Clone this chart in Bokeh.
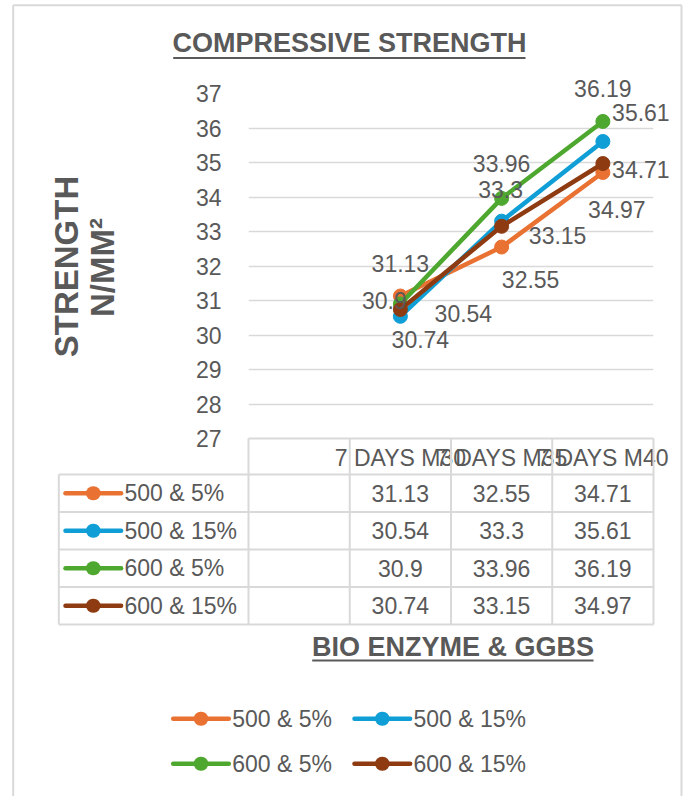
import math

from bokeh.plotting import figure
from bokeh.models import Range1d, FixedTicker
from bokeh.core.properties import value
from bokeh.embed import file_html
from bokeh.resources import INLINE

# ---------------- data ----------------
categories = ["", "7 DAYS M30", "7 DAYS M35", "7 DAYS M40"]
series_names = ["500 & 5%", "500 & 15%", "600 & 5%", "600 & 15%"]
strength_500_5 = [31.13, 32.55, 34.71]
strength_500_15 = [30.54, 33.3, 35.61]
strength_600_5 = [30.9, 33.96, 36.19]
strength_600_15 = [30.74, 33.15, 34.97]
y_ticks = [27, 28, 29, 30, 31, 32, 33, 34, 35, 36, 37]

series_values = [strength_500_5, strength_500_15, strength_600_5, strength_600_15]

# ---------------- styling ----------------
colors = ["#E97132", "#0F9ED5", "#4EA72E", "#8E3B12"]
FONT = "Liberation Sans"
GREY = "#595959"
RULE = "#D9D9D9"

# data-label offsets in px (right, up) for each point of each series
label_offsets = [
    [(0, 33), (29, -32), (38, 3)],
    [(63, 3), (-1, 32), (38, 29)],
    [(-16, 3), (0, 35), (0, 33)],
    [(20, -30), (56, -9), (14, -46)],
]

# ---------------- layout ----------------
W, H = 689, 796
FL, FT, FW, FH = 248, 93, 405, 345          # plot frame
Y0, Y1 = y_ticks[0], y_ticks[-1]
x_lo, x_hi = -0.5, len(categories) - 0.5
cat_x = list(range(1, len(categories)))
XPX = (x_hi - x_lo) / FW                     # data units per px
YPX = (Y1 - Y0) / FH


def xd(px):
    return x_lo + (px - FL) * XPX


def yd(py):
    return Y1 - (py - FT) * YPX


p = figure(width=W, height=H, x_range=Range1d(x_lo, x_hi), y_range=Range1d(Y0, Y1),
           output_backend="svg", toolbar_location=None,
           min_border_left=FL, min_border_right=W - FL - FW,
           min_border_top=FT, min_border_bottom=H - FT - FH)
p.outline_line_color = None
p.background_fill_color = "white"
p.border_fill_color = "white"

# axes
xa = p.xaxis[0]
xa.ticker = FixedTicker(ticks=cat_x)
xa.major_label_overrides = {i: categories[i] for i in cat_x}
xa.major_label_standoff = 0
ya = p.yaxis[0]
ya.ticker = FixedTicker(ticks=y_ticks)
ya.major_label_standoff = 21
for ax in (xa, ya):
    ax.axis_line_color = None
    ax.major_tick_line_color = None
    ax.minor_tick_line_color = None
    ax.major_label_text_font = FONT
    ax.major_label_text_font_size = "23px"
    ax.major_label_text_color = GREY

p.xgrid.visible = False
p.ygrid.ticker = FixedTicker(ticks=y_ticks)
p.ygrid.grid_line_color = RULE
p.ygrid.grid_line_width = 1.5


def put_text(xs, ys, texts, size="23px", bold=False, align="center", angle=0.0):
    p.text(x=xs, y=ys, text=texts, angle=angle, level="overlay",
           text_font=value(FONT), text_font_size=value(size),
           text_font_style=value("bold" if bold else "normal"),
           text_color=GREY, text_align=align, text_baseline="middle")


def put_key(i, x_left_px, y_px, text_gap=3.4):
    # legend key: line with a round dot in the middle, then the series name
    col = colors[i]
    cx = x_left_px + 27.8
    p.segment(x0=[xd(x_left_px)], y0=[yd(y_px)], x1=[xd(x_left_px + 55.6)], y1=[yd(y_px)],
              line_color=col, line_width=4.5, line_cap="round", level="overlay")
    p.segment(x0=[xd(cx - 0.3)], y0=[yd(y_px)], x1=[xd(cx + 0.3)], y1=[yd(y_px)],
              line_color=col, line_width=14, line_cap="round", level="overlay")
    put_text([xd(x_left_px + 55.6 + text_gap)], [yd(y_px)], [series_names[i]], align="left")


# outer chart border, data table rules and title underlines
TOP = FT + FH
HEAD_H, ROW_H = 36, 37.5
TL = 58.3
row_lines = [TOP + HEAD_H + k * ROW_H for k in range(len(series_names) + 1)]
bottom = row_lines[-1]
x0s, y0s, x1s, y1s = [], [], [], []
x0s.append(x_lo); y0s.append(Y0); x1s.append(x_hi); y1s.append(Y0)
for py in row_lines:
    x0s.append(xd(TL)); y0s.append(yd(py)); x1s.append(x_hi); y1s.append(yd(py))
x0s.append(xd(TL)); y0s.append(yd(row_lines[0])); x1s.append(xd(TL)); y1s.append(yd(bottom))
for k in range(len(categories) + 1):
    xe = x_lo + k
    x0s.append(xe); y0s.append(Y0); x1s.append(xe); y1s.append(yd(bottom))
p.segment(x0=x0s, y0=y0s, x1=x1s, y1=y1s, line_color=RULE, line_width=2, level="overlay")

p.segment(x0=[xd(12.7), xd(12.7), xd(681)], y0=[yd(4.7), yd(4.7), yd(4.7)],
          x1=[xd(681), xd(12.7), xd(681)], y1=[yd(4.7), yd(800), yd(800)],
          line_color=RULE, line_width=2, level="overlay")

p.segment(x0=[xd(172.7), xd(311.7)], y0=[yd(57.5), yd(660)],
          x1=[xd(525), xd(593)], y1=[yd(57.5), yd(660)],
          line_color=GREY, line_width=2.2, level="overlay")

# series
for vals, col in zip(series_values, colors):
    p.line(x=cat_x, y=vals, line_color=col, line_width=4.5, line_cap="round")
    p.scatter(x=cat_x, y=vals, marker="circle", size=14, fill_color=col, line_color=col)

# data labels on the points
lx, ly, lt = [], [], []
for vals, offs in zip(series_values, label_offsets):
    for xi, v, (dx, dy) in zip(cat_x, vals, offs):
        lx.append(xi + dx * XPX); ly.append(v + dy * YPX); lt.append(str(v))
put_text(lx, ly, lt)

# data table: values and series keys
tx, ty, tt = [], [], []
for r, vals in enumerate(series_values):
    yc = row_lines[r] + ROW_H / 2
    put_key(r, 65, yc)
    for xi, v in zip(cat_x, vals):
        tx.append(xi); ty.append(yd(yc)); tt.append(str(v))
put_text(tx, ty, tt)

# titles
put_text([xd(349)], [yd(42)], ["COMPRESSIVE STRENGTH"], size="27px", bold=True)
put_text([xd(452.5)], [yd(646)], ["BIO ENZYME & GGBS"], size="27px", bold=True)
put_text([xd(65.5)], [yd(266)], ["STRENGTH"], size="33px", bold=True, angle=math.pi / 2)
put_text([xd(101.5)], [yd(267)], ["N/MM²"], size="33px", bold=True, angle=math.pi / 2)

# legend under the chart (2 x 2)
for i, (lx_px, ly_px) in enumerate([(172.7, 718.3), (354, 718.3), (172.7, 763.3), (354, 763.3)]):
    put_key(i, lx_px, ly_px)

open("out.html", "w").write(file_html(p, INLINE))
